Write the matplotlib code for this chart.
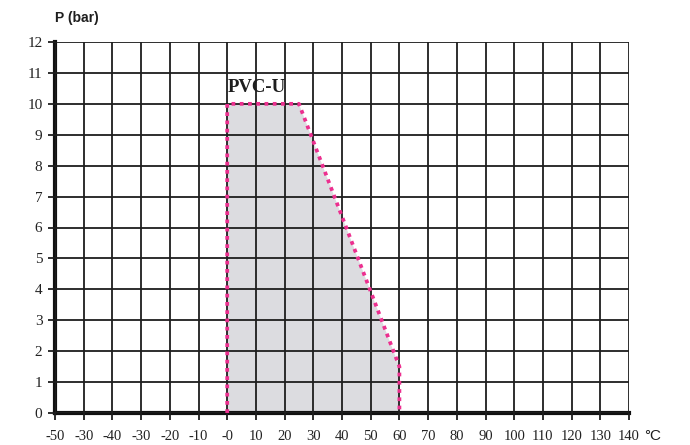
import matplotlib
matplotlib.use("Agg")
import matplotlib.pyplot as plt

# Data
temps = [0, 0, 25, 60, 60]
pressure = [0, 10, 10, 1.5, 0]
x_ticks = list(range(-60, 141, 10))
x_labels = ["-50", "-30", "-40", "-30", "-20", "-10", "-0", "10", "20", "30", "40",
            "50", "60", "70", "80", "90", "100", "110", "120", "130", "140"]
y_ticks = list(range(0, 13))
series_label = "PVC-U"

fig = plt.figure(figsize=(6.9, 4.45), dpi=100)
ax = fig.add_axes([55/690, 1-413/445, (629-55)/690, (413-42)/445])

ax.set_xlim(-60, 140)
ax.set_ylim(0, 12)

ax.fill(temps, pressure, color="#dcdce0", zorder=1, linewidth=0)
ax.set_xticks(x_ticks)
ax.set_xticklabels(x_labels, family="Liberation Serif", fontsize=10.5, color="#222222")
ax.set_yticks(y_ticks)
ax.set_yticklabels([str(v) for v in y_ticks], family="Liberation Serif", fontsize=11, color="#222222")
ax.grid(True, color="#1e1e1e", linewidth=1.3, zorder=2)
ax.set_axisbelow(False)
for s in ["top", "right"]:
    ax.spines[s].set_visible(False)
ax.spines["left"].set_linewidth(3)
ax.spines["bottom"].set_linewidth(3)
ax.spines["left"].set_color("#111111")
ax.spines["bottom"].set_color("#111111")
ax.tick_params(axis="both", length=5, width=1.3, color="#1e1e1e", pad=4)
ax.tick_params(axis="x", pad=7)

ax.plot(temps, pressure, color="#ec2f8f", linestyle=(0, (1, 1.2)), linewidth=2.7, zorder=4,
        clip_on=False, solid_capstyle="butt", dash_capstyle="butt")

ax.text(0.3, 10.25, series_label, family="Liberation Serif", fontweight="bold", fontsize=13.5,
        color="#1e1e1e", ha="left", va="bottom", zorder=5)

fig.text(55/690, 1-18/445, "P (bar)", family="Liberation Sans", fontweight="bold", fontsize=10,
         color="#1e1e1e", ha="left", va="center")
fig.text(644/690, 1-443/445, "°C", family="Liberation Sans", fontsize=11,
         color="#1e1e1e", ha="left", va="bottom")

fig.savefig("out.png", dpi=100)
